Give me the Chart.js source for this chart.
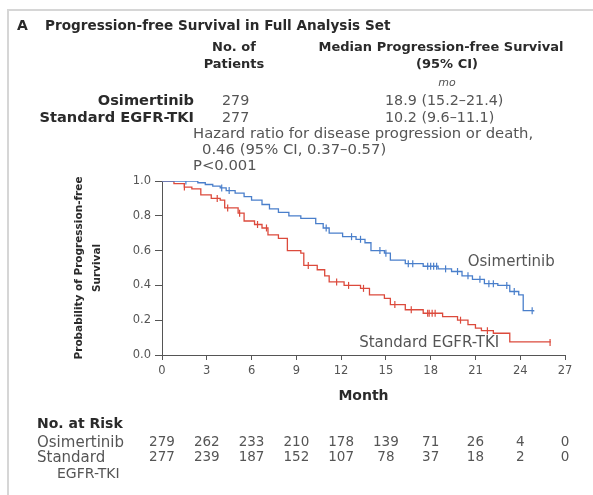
<!DOCTYPE html>
<html lang="en">
<head>
<meta charset="UTF-8">
<title>Progression-free Survival</title>
<script src="https://cdn.jsdelivr.net/npm/chart.js"></script>
<style>
  body { margin: 0; background: #fff; font-family: "DejaVu Sans", sans-serif; }
  .page { position: relative; width: 593px; height: 495px; overflow: hidden; }
  .frame { position: absolute; left: 7px; top: 9px; width: 600px; height: 500px;
           border-left: 2px solid #d6d6d6; border-top: 2px solid #d6d6d6; }
  .chart-box { position: absolute; left: 0; top: 0; width: 593px; height: 495px; }
  .t { position: absolute; white-space: nowrap; line-height: 16px; color: #555; font-size: 14.3px; }
  .b { font-weight: bold; color: #2a2a2a; font-size: 13px; }
  .c { transform: translateX(-50%); }
  .r { transform: translateX(-100%); }
</style>
</head>
<body>
<div class="page">
  <div class="frame"></div>
  <div class="chart-box"><canvas id="kmChart"></canvas></div>

  <div class="t b" style="left:17px; top:17px; font-size:14px;">A</div>
  <div class="t b" style="left:45px; top:17px; font-size:13.6px;">Progression-free Survival in Full Analysis Set</div>

  <div class="t b c" style="left:234px; top:39px;">No. of</div>
  <div class="t b c" style="left:234px; top:56px;">Patients</div>
  <div class="t b c" style="left:441px; top:39px;">Median Progression-free Survival</div>
  <div class="t b c" style="left:447px; top:56px;">(95% CI)</div>
  <div class="t c" style="left:447px; top:75px; font-size:11px; font-style:italic;">mo</div>

  <div class="t b r" style="left:194px; top:92px; font-size:14.6px;">Osimertinib</div>
  <div class="t b r" style="left:194px; top:109px; font-size:14.6px;">Standard EGFR-TKI</div>
  <div class="t" style="left:222px; top:92px;">279</div>
  <div class="t" style="left:222px; top:109px;">277</div>
  <div class="t" style="left:385px; top:92px;">18.9 (15.2–21.4)</div>
  <div class="t" style="left:385px; top:109px;">10.2 (9.6–11.1)</div>

  <div class="t" style="left:193px; top:125px; font-size:14.8px;">Hazard ratio for disease progression or death,</div>
  <div class="t" style="left:202px; top:141px; font-size:14.8px;">0.46 (95% CI, 0.37–0.57)</div>
  <div class="t" style="left:193px; top:157px; font-size:14.8px;">P&lt;0.001</div>

  <div class="t b" style="left:37px; top:415px; font-size:14px;">No. at Risk</div>
  <div class="t" style="left:37px; top:434px; font-size:15px;">Osimertinib</div>
  <div class="t" style="left:37px; top:449px; font-size:15px;">Standard</div>
  <div class="t" style="left:57px; top:465px; font-size:14px;">EGFR-TKI</div>
</div>

<script>
  // Kaplan-Meier steps (month, probability after the drop)
  const osiMonths = [0, 2.4, 2.9, 3.4, 3.9, 4.3, 4.9, 5.5, 6.0, 6.7, 7.2, 7.8, 8.5, 9.3, 10.3, 10.8, 11.2, 12.1, 13.0, 13.6, 14.0, 14.9, 15.3, 16.3, 17.5, 18.5, 19.4, 20.1, 20.8, 21.6, 22.5, 23.3, 23.9, 24.2, 24.9];
  const osiSurv = [1.0, 0.99, 0.98, 0.97, 0.96, 0.945, 0.93, 0.91, 0.89, 0.865, 0.84, 0.82, 0.80, 0.785, 0.755, 0.73, 0.70, 0.68, 0.665, 0.645, 0.60, 0.585, 0.545, 0.525, 0.51, 0.495, 0.48, 0.455, 0.435, 0.41, 0.40, 0.365, 0.345, 0.255, 0.25];

  const stdMonths = [0, 0.8, 1.5, 2.0, 2.6, 3.3, 3.9, 4.2, 5.1, 5.5, 6.2, 6.7, 7.1, 7.8, 8.4, 9.3, 9.5, 10.4, 10.9, 11.2, 12.2, 13.3, 13.9, 14.9, 15.3, 16.3, 17.5, 18.8, 19.8, 20.5, 21.0, 21.4, 22.2, 23.3, 26.0];
  const stdSurv = [1.0, 0.985, 0.965, 0.955, 0.92, 0.90, 0.89, 0.845, 0.815, 0.77, 0.75, 0.73, 0.69, 0.67, 0.60, 0.585, 0.515, 0.49, 0.455, 0.42, 0.40, 0.383, 0.345, 0.326, 0.29, 0.26, 0.24, 0.22, 0.20, 0.175, 0.155, 0.14, 0.125, 0.076, 0.072];

  // censoring marks (months)
  const osiCensor = [1.6, 4.0, 4.5, 11.0, 12.7, 13.3, 14.6, 15.0, 16.5, 16.8, 17.8, 18.0, 18.2, 18.4, 19.0, 19.8, 20.5, 21.3, 21.9, 22.2, 23.1, 23.6, 24.8];
  const stdCensor = [1.5, 3.7, 4.4, 5.2, 6.4, 7.0, 9.8, 11.7, 12.5, 13.5, 15.6, 16.7, 17.8, 17.9, 18.1, 18.3, 20.0, 21.8, 26.0];

  const xTicks = [0, 3, 6, 9, 12, 15, 18, 21, 24, 27];
  const yTicks = [0.0, 0.2, 0.4, 0.6, 0.8, 1.0];
  const osiRisk = [279, 262, 233, 210, 178, 139, 71, 26, 4, 0];
  const stdRisk = [277, 239, 187, 152, 107, 78, 37, 18, 2, 0];

  const blue = '#4a7fcb';
  const red = '#dc4a3c';

  function toPoints(xs, ys) {
    return xs.map((x, i) => ({ x: x, y: ys[i] }));
  }

  // value of the step curve at time t
  function stepValue(xs, ys, t) {
    let v = ys[0];
    for (let i = 0; i < xs.length; i++) {
      if (xs[i] <= t) v = ys[i];
    }
    return v;
  }

  function censorPoints(times, xs, ys) {
    return times.map(t => ({ x: t, y: stepValue(xs, ys, t) }));
  }

  const extraText = {
    id: 'extraText',
    afterDraw(chart) {
      const ctx = chart.ctx;
      const xs = chart.scales.x;
      const ys = chart.scales.y;
      ctx.save();
      ctx.fillStyle = '#555';
      ctx.textBaseline = 'middle';
      ctx.textAlign = 'center';
      ctx.font = '15px "DejaVu Sans"';
      ctx.fillText('Osimertinib', xs.getPixelForValue(23.4), ys.getPixelForValue(0.535));
      ctx.fillText('Standard EGFR-TKI', xs.getPixelForValue(17.9), ys.getPixelForValue(0.07));

      // number at risk table under the axis
      ctx.font = '13.5px "DejaVu Sans"';
      xTicks.forEach((m, i) => {
        const px = xs.getPixelForValue(m);
        ctx.fillText(String(osiRisk[i]), px, 442);
        ctx.fillText(String(stdRisk[i]), px, 457);
      });
      ctx.restore();
    }
  };

  const ctx = document.getElementById('kmChart').getContext('2d');
  new Chart(ctx, {
    type: 'line',
    data: {
      datasets: [
        {
          label: 'Osimertinib',
          data: toPoints(osiMonths, osiSurv),
          borderColor: blue,
          borderWidth: 1.3,
          stepped: 'before',
          pointRadius: 0,
          fill: false
        },
        {
          label: 'Standard EGFR-TKI',
          data: toPoints(stdMonths, stdSurv),
          borderColor: red,
          borderWidth: 1.3,
          stepped: 'before',
          pointRadius: 0,
          fill: false
        },
        {
          label: 'Osimertinib censored',
          data: censorPoints(osiCensor, osiMonths, osiSurv),
          showLine: false,
          pointStyle: 'line',
          rotation: 90,
          pointRadius: 3.5,
          borderColor: blue,
          borderWidth: 1.2
        },
        {
          label: 'Standard censored',
          data: censorPoints(stdCensor, stdMonths, stdSurv),
          showLine: false,
          pointStyle: 'line',
          rotation: 90,
          pointRadius: 3.5,
          borderColor: red,
          borderWidth: 1.2
        }
      ]
    },
    options: {
      responsive: true,
      maintainAspectRatio: false,
      animation: false,
      layout: { padding: { left: 66, top: 181, right: 28, bottom: 90 } },
      plugins: {
        legend: { display: false },
        tooltip: { enabled: false }
      },
      scales: {
        x: {
          type: 'linear',
          min: 0,
          max: 27,
          afterFit: s => { s.height = 50; },
          afterBuildTicks: s => { s.ticks = xTicks.map(v => ({ value: v })); },
          grid: { drawOnChartArea: false, drawTicks: true, tickLength: 5, color: '#555' },
          border: { display: true, color: '#555', width: 1 },
          ticks: { color: '#555', font: { family: 'DejaVu Sans', size: 11.5 }, padding: 4, maxRotation: 0 },
          title: {
            display: true,
            text: 'Month',
            color: '#2a2a2a',
            font: { family: 'DejaVu Sans', size: 14, weight: 'bold', lineHeight: 1.2 },
            padding: { top: 4, bottom: 0 }
          }
        },
        y: {
          min: 0,
          max: 1,
          afterFit: s => { s.width = 96; },
          afterBuildTicks: s => { s.ticks = yTicks.map(v => ({ value: v })); },
          grid: { drawOnChartArea: false, drawTicks: true, tickLength: 7, color: '#555' },
          border: { display: true, color: '#555', width: 1 },
          ticks: {
            color: '#555',
            font: { family: 'DejaVu Sans', size: 11.5 },
            padding: 4,
            callback: v => v.toFixed(1)
          },
          title: {
            display: true,
            text: ['Probability of Progression-free', 'Survival'],
            color: '#2a2a2a',
            font: { family: 'DejaVu Sans', size: 10.5, weight: 'bold', lineHeight: 1.7 },
            padding: { top: 4, bottom: 0 }
          }
        }
      }
    },
    plugins: [extraText]
  });
</script>
</body>
</html>
